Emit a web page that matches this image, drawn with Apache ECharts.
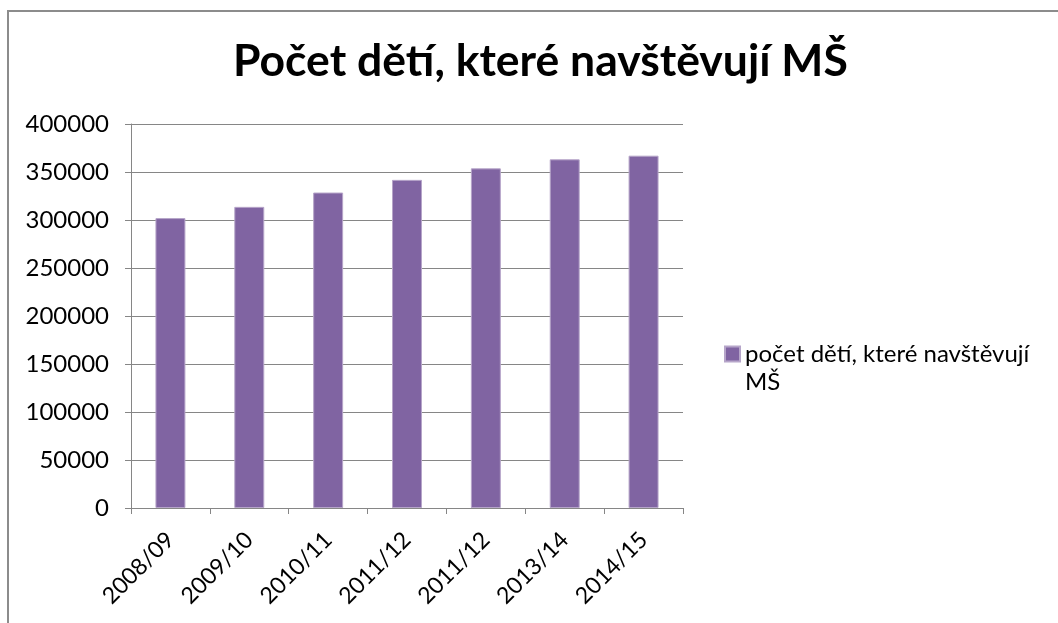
<!DOCTYPE html>
<html>
<head>
	<meta charset="utf-8">
	<title>Počet dětí, které navštěvují MŠ</title>
	<script src="https://cdn.jsdelivr.net/npm/echarts@6/dist/echarts.min.js"></script>
	<style>
		html, body { margin: 0; padding: 0; background: #fff; }
		#chart { width: 1058px; height: 623px; }
	</style>
</head>
<body>
	<div id="chart"></div>
	<script>
		var categories = ['2008/09', '2009/10', '2010/11', '2011/12', '2011/12', '2013/14', '2014/15'];
		var values = [302000, 313700, 328600, 341800, 353800, 363200, 367000];
		var yTicks = [0, 50000, 100000, 150000, 200000, 250000, 300000, 350000, 400000];
		var seriesName = 'počet dětí, které navštěvují MŠ';

		var font = 'Lato, "Open Sans", sans-serif';
		var chart = echarts.init(document.getElementById('chart'));
		var option = {
			animation: false,
			graphic: [{
				type: 'rect',
				shape: { x: 8, y: 11, width: 1200, height: 800 },
				style: { fill: 'none', stroke: '#8c8c8c', lineWidth: 2 }
			}],
			title: {
				text: 'Počet dětí, které navštěvují MŠ',
				left: 228,
				top: 34,
				textStyle: { fontFamily: font, fontSize: 44.5, fontWeight: 'bold', color: '#000' }
			},
			legend: {
				left: 719,
				top: 335,
				// square sits beside the first line of the two-line name
				icon: 'path://M0,0H15V15H0Z M15,43',
				itemWidth: 15,
				itemHeight: 43,
				itemGap: 7,
				formatter: function (name) {
					return name.replace(' MŠ', '\nMŠ');
				},
				textStyle: { fontFamily: font, fontSize: 24, color: '#000', lineHeight: 28 }
			},
			grid: { left: 131, right: 375, top: 124, bottom: 115 },
			xAxis: {
				type: 'category',
				data: categories,
				axisLine: { lineStyle: { color: '#868686' } },
				axisTick: { show: true, length: 6, lineStyle: { color: '#868686' } },
				axisLabel: { rotate: 45, fontFamily: font, fontSize: 23, color: '#000', margin: 28, interval: 0 }
			},
			yAxis: {
				type: 'value',
				min: yTicks[0],
				max: yTicks[yTicks.length - 1],
				interval: yTicks[1] - yTicks[0],
				axisLine: { show: true, lineStyle: { color: '#868686' } },
				axisTick: { show: true, length: 6, lineStyle: { color: '#868686' } },
				splitLine: { lineStyle: { color: '#868686' } },
				axisLabel: { fontFamily: font, fontSize: 24, color: '#000', margin: 22, formatter: function (v) { return String(v); } }
			},
			series: [{
				name: seriesName,
				type: 'bar',
				data: values,
				barWidth: '38%',
				itemStyle: { color: '#8064a2', borderColor: '#b6a5c9', borderWidth: 1 }
			}]
		};
		chart.setOption(option);
	</script>
</body>
</html>
